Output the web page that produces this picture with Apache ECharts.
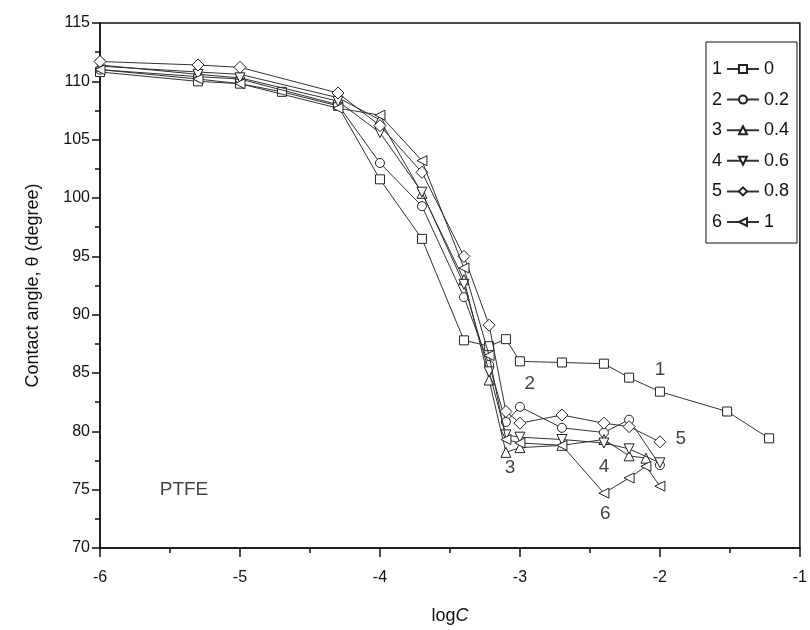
<!DOCTYPE html>
<html><head><meta charset="utf-8">
<script src="https://cdn.jsdelivr.net/npm/echarts@6/dist/echarts.min.js"></script>
<style>html,body{margin:0;padding:0;background:#fff}#c{width:810px;height:630px}</style>
</head><body><div id="c"></div>
<script>
// ---- data ----
const x1 = [-6, -5.3, -5, -4.7, -4.3, -4, -3.7, -3.4, -3.22, -3.1, -3, -2.7, -2.4, -2.22, -2, -1.52, -1.22];
const y1 = [110.8, 110.0, 109.8, 109.1, 107.9, 101.6, 96.5, 87.8, 87.3, 87.9, 86.0, 85.9, 85.8, 84.6, 83.4, 81.7, 79.4];
const x2 = [-6, -5.3, -5, -4.3, -4, -3.7, -3.4, -3.22, -3.1, -3, -2.7, -2.4, -2.22, -2];
const y2 = [111.0, 110.4, 110.2, 108.0, 103.0, 99.3, 91.5, 85.7, 80.8, 82.1, 80.3, 79.9, 81.0, 77.1];
const x3 = [-6, -5.3, -5, -4.3, -4, -3.7, -3.4, -3.22, -3.1, -3, -2.7, -2.4, -2.22, -2.1];
const y3 = [111.3, 110.8, 110.6, 108.6, 106.7, 100.4, 93.0, 84.4, 78.2, 78.6, 78.8, 79.3, 77.9, 77.7];
const x4 = [-6, -5.3, -5, -4.3, -4, -3.7, -3.4, -3.22, -3.1, -3, -2.7, -2.4, -2.22, -2];
const y4 = [111.4, 110.6, 110.3, 108.3, 105.6, 100.5, 92.6, 85.1, 79.7, 79.5, 79.3, 79.0, 78.5, 77.3];
const x5 = [-6, -5.3, -5, -4.3, -4, -3.7, -3.4, -3.22, -3.1, -3, -2.7, -2.4, -2.22, -2];
const y5 = [111.7, 111.4, 111.2, 109.0, 106.2, 102.2, 95.0, 89.1, 81.7, 80.7, 81.4, 80.7, 80.4, 79.1];
const x6 = [-6, -5.3, -5, -4.3, -4, -3.7, -3.4, -3.22, -3.1, -3, -2.7, -2.4, -2.22, -2.1, -2];
const y6 = [111.0, 110.2, 109.8, 107.7, 107.1, 103.2, 94.0, 86.5, 79.3, 79.0, 78.8, 74.7, 76.0, 77.0, 75.3];
const seriesNames = ['0', '0.2', '0.4', '0.6', '0.8', '1'];
const seriesNums = ['1', '2', '3', '4', '5', '6'];
const xTicks = [-6, -5, -4, -3, -2, -1];
const yTicks = [70, 75, 80, 85, 90, 95, 100, 105, 110, 115];
// curve labels: [text, x, y]
const curveLabels = [['1', -2.0, 85.3], ['2', -2.93, 84.1], ['3', -3.07, 76.9], ['4', -2.4, 77.0], ['5', -1.85, 79.4], ['6', -2.39, 72.9], ['PTFE', -5.4, 75.0]];

const xs = [x1, x2, x3, x4, x5, x6];
const ys = [y1, y2, y3, y4, y5, y6];
const symbols = ['rect', 'circle', 'triangle', 'triangle', 'diamond', 'triangle'];
const rots = [0, 0, 0, 180, 0, 90];
const sizes = [9, 9, 10, 10, 12, 10];
const FONT = 'Liberation Sans, Arial, sans-serif';

const series = xs.map((xa, i) => ({
  type: 'line',
  name: seriesNames[i],
  data: xa.map((x, j) => [x, ys[i][j]]),
  symbol: symbols[i],
  symbolRotate: rots[i],
  symbolSize: sizes[i],
  showAllSymbol: true,
  lineStyle: { color: '#333', width: 1 },
  itemStyle: { color: '#fff', borderColor: '#222', borderWidth: 1 },
  z: 2 + i,
  animation: false
}));
series.push({
  type: 'scatter',
  data: curveLabels.map(l => ({ value: [l[1], l[2]], name: l[0] })),
  symbolSize: 0,
  silent: true,
  label: { show: true, position: 'inside', formatter: p => p.name, color: '#111', fontSize: 19, fontFamily: FONT },
  z: 10,
  animation: false
});

const LEG_TOP = 42, PAD_TOP = 18, ROW = 30.6;
const chart = echarts.init(document.getElementById('c'), null, { renderer: 'canvas' });
chart.setOption({
  animation: false,
  backgroundColor: '#fff',
  grid: { left: 100, right: 7, top: 23, bottom: 80, show: true, borderColor: '#111', borderWidth: 1.5, backgroundColor: 'transparent' },
  legend: {
    orient: 'vertical',
    right: 13, top: LEG_TOP,
    itemWidth: 32, itemHeight: 10, itemGap: 12.6, align: 'left',
    data: seriesNames,
    textStyle: { fontSize: 18, fontFamily: FONT, color: '#111', padding: [0, 0, 0, 0] },
    borderColor: '#111', borderWidth: 1,
    padding: [PAD_TOP, 8, 12, 20]
  },
  graphic: seriesNums.map((n, i) => ({
    type: 'text', x: 722, y: LEG_TOP + PAD_TOP + 9 + i * ROW,
    style: { text: n, fontSize: 18, fontFamily: FONT, fill: '#111', textAlign: 'right', textVerticalAlign: 'middle' },
    z: 20
  })),
  xAxis: {
    type: 'value', min: -6, max: -1, interval: 1,
    name: '{a|log}{b|C}', nameLocation: 'middle', nameGap: 59,
    nameTextStyle: { rich: { a: { fontSize: 18, fontFamily: FONT, color: '#111' }, b: { fontSize: 18, fontFamily: FONT, fontStyle: 'italic', color: '#111' } } },
    axisLine: { lineStyle: { color: '#111', width: 1.5 } },
    axisTick: { length: 9, lineStyle: { color: '#111', width: 1.5 } },
    minorTick: { show: true, splitNumber: 2, length: 5, lineStyle: { color: '#111', width: 1.5 } },
    axisLabel: { fontSize: 16, fontFamily: FONT, color: '#111', margin: 22 },
    splitLine: { show: false }
  },
  yAxis: {
    type: 'value', min: 70, max: 115, interval: 5,
    name: 'Contact angle, θ (degree)', nameLocation: 'middle', nameGap: 58,
    nameTextStyle: { fontSize: 18, fontFamily: FONT, color: '#111' },
    axisLine: { lineStyle: { color: '#111', width: 1.5 } },
    axisTick: { length: 8, lineStyle: { color: '#111', width: 1.5 } },
    minorTick: { show: true, splitNumber: 2, length: 5, lineStyle: { color: '#111', width: 1.5 } },
    axisLabel: { fontSize: 16, fontFamily: FONT, color: '#111', margin: 10 },
    splitLine: { show: false }
  },
  series: series
});
</script></body></html>
